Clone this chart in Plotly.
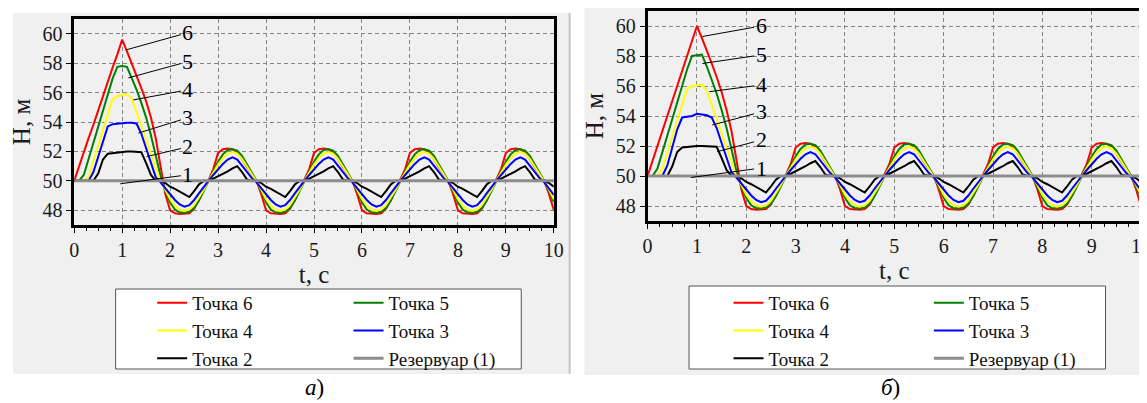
import plotly.graph_objects as go

W, H = 1147, 403
FONT = "Liberation Serif"

# ---------------- data ----------------
# time grids (s)
t_ramp = [round(0.1 * i, 1) for i in range(20)]          # 0.0 ... 1.9
t_tail = [round(2.0 + 0.1 * i, 1) for i in range(81)]    # 2.0 ... 10.0
t_res = [0.0, 10.0]

names = ["Точка 6", "Точка 5", "Точка 4", "Точка 3", "Точка 2", "Резервуар (1)"]
colors = ["#ff0000", "#008000", "#ffff00", "#0000ff", "#000000", "#8c8c8c"]

# panel a) : first pressure wave, t = 0.0 ... 1.9 s
p6_ramp_a = [50.0, 51.0, 51.9, 52.9, 53.8, 54.8, 55.8, 56.7, 57.7, 58.6,
             59.6, 58.8, 58.0, 57.2, 56.3, 55.4, 54.3, 52.9, 51.0, 49.1]
p5_ramp_a = [50.0, 50.0, 50.4, 51.5, 52.6, 53.7, 54.8, 55.9, 56.95, 57.75,
             57.8, 57.75, 57.0, 56.2, 55.3, 54.3, 53.1, 51.8, 50.35, 49.3]
p4_ramp_a = [50.0, 50.0, 50.0, 50.3, 51.35, 52.4, 53.4, 54.5, 55.55, 55.75,
             55.8, 55.9, 55.6, 54.65, 53.7, 52.75, 51.8, 50.85, 49.95, 49.4]
p3_ramp_a = [50.0, 50.0, 50.0, 50.0, 50.6, 51.65, 52.7, 53.7, 53.85, 53.9,
             53.9, 53.95, 53.95, 53.9, 53.2, 52.2, 51.2, 50.25, 49.9, 49.5]
p2_ramp_a = [50.0, 50.0, 50.0, 50.0, 50.0, 50.5, 51.45, 51.85, 51.9, 51.95,
             51.95, 52.0, 52.0, 52.0, 51.95, 51.2, 50.4, 50.0, 50.0, 49.85]

# panel б) : first pressure wave, t = 0.0 ... 1.9 s
p6_ramp_b = [50.0, 51.0, 52.0, 53.0, 54.0, 55.0, 56.0, 57.0, 58.0, 59.0,
             60.0, 59.2, 58.4, 57.5, 56.6, 55.6, 54.4, 53.0, 51.1, 49.1]
p5_ramp_b = [50.0, 50.0, 50.5, 51.6, 52.7, 53.8, 54.9, 56.0, 57.1, 58.0,
             58.05, 58.1, 57.3, 56.4, 55.5, 54.4, 53.2, 51.8, 50.35, 49.3]
p4_ramp_b = [50.0, 50.0, 50.0, 50.5, 51.6, 52.65, 53.7, 54.75, 55.8, 56.0,
             56.05, 56.1, 55.7, 54.75, 53.8, 52.8, 51.85, 50.9, 49.95, 49.4]
p3_ramp_b = [50.0, 50.0, 50.0, 50.0, 50.7, 51.9, 53.1, 53.9, 53.95, 54.0,
             54.15, 54.1, 54.05, 53.9, 53.2, 52.2, 51.2, 50.25, 49.9, 49.5]
p2_ramp_b = [50.0, 50.0, 50.0, 50.0, 50.0, 50.65, 51.6, 51.9, 51.95, 51.95,
             52.0, 52.0, 52.0, 52.0, 51.95, 51.2, 50.4, 50.0, 50.0, 49.85]

# oscillations, t = 2.0 ... 10.0 s (same in both panels)
p6_tail = [48.0, 47.8, 47.75, 47.75, 47.8, 48.1, 48.7, 49.4, 50.05, 50.8,
           51.9, 52.15, 52.2, 52.15, 51.95, 51.5, 50.95, 50.45, 50.0, 49.1,
           48.0, 47.8, 47.75, 47.75, 47.8, 48.1, 48.7, 49.4, 50.05, 50.8,
           51.9, 52.15, 52.2, 52.15, 51.95, 51.5, 50.95, 50.45, 50.0, 49.1,
           48.0, 47.8, 47.75, 47.75, 47.8, 48.1, 48.7, 49.4, 50.05, 50.8,
           51.9, 52.15, 52.2, 52.15, 51.95, 51.5, 50.95, 50.45, 50.0, 49.1,
           48.0, 47.8, 47.75, 47.75, 47.8, 48.1, 48.7, 49.4, 50.05, 50.8,
           51.9, 52.15, 52.2, 52.15, 51.95, 51.5, 50.95, 50.45, 50.0, 49.1,
           48.0]
p5_tail = [48.55, 48.05, 47.85, 47.85, 47.9, 48.15, 48.65, 49.3, 50.0, 50.65,
           51.3, 51.8, 52.1, 52.15, 52.05, 51.7, 51.15, 50.55, 50.0, 49.3,
           48.55, 48.05, 47.85, 47.85, 47.9, 48.15, 48.65, 49.3, 50.0, 50.65,
           51.3, 51.8, 52.1, 52.15, 52.05, 51.7, 51.15, 50.55, 50.0, 49.3,
           48.55, 48.05, 47.85, 47.85, 47.9, 48.15, 48.65, 49.3, 50.0, 50.65,
           51.3, 51.8, 52.1, 52.15, 52.05, 51.7, 51.15, 50.55, 50.0, 49.3,
           48.55, 48.05, 47.85, 47.85, 47.9, 48.15, 48.65, 49.3, 50.0, 50.65,
           51.3, 51.8, 52.1, 52.15, 52.05, 51.7, 51.15, 50.55, 50.0, 49.3,
           48.55]
p4_tail = [48.75, 48.3, 48.05, 47.95, 48.05, 48.35, 48.85, 49.4, 50.0, 50.55,
           51.1, 51.55, 51.85, 51.95, 51.85, 51.5, 51.0, 50.45, 49.95, 49.4,
           48.75, 48.3, 48.05, 47.95, 48.05, 48.35, 48.85, 49.4, 50.0, 50.55,
           51.1, 51.55, 51.85, 51.95, 51.85, 51.5, 51.0, 50.45, 49.95, 49.4,
           48.75, 48.3, 48.05, 47.95, 48.05, 48.35, 48.85, 49.4, 50.0, 50.55,
           51.1, 51.55, 51.85, 51.95, 51.85, 51.5, 51.0, 50.45, 49.95, 49.4,
           48.75, 48.3, 48.05, 47.95, 48.05, 48.35, 48.85, 49.4, 50.0, 50.55,
           51.1, 51.55, 51.85, 51.95, 51.85, 51.5, 51.0, 50.45, 49.95, 49.4,
           48.75]
p3_tail = [49.05, 48.7, 48.4, 48.25, 48.35, 48.7, 49.15, 49.6, 50.0, 50.4,
           50.8, 51.15, 51.45, 51.6, 51.45, 51.05, 50.6, 50.2, 49.9, 49.5,
           49.05, 48.7, 48.4, 48.25, 48.35, 48.7, 49.15, 49.6, 50.0, 50.4,
           50.8, 51.15, 51.45, 51.6, 51.45, 51.05, 50.6, 50.2, 49.9, 49.5,
           49.05, 48.7, 48.4, 48.25, 48.35, 48.7, 49.15, 49.6, 50.0, 50.4,
           50.8, 51.15, 51.45, 51.6, 51.45, 51.05, 50.6, 50.2, 49.9, 49.5,
           49.05, 48.7, 48.4, 48.25, 48.35, 48.7, 49.15, 49.6, 50.0, 50.4,
           50.8, 51.15, 51.45, 51.6, 51.45, 51.05, 50.6, 50.2, 49.9, 49.5,
           49.05]
p2_tail = [49.6, 49.45, 49.25, 49.05, 48.9, 49.3, 49.75, 50.0, 50.0, 50.15,
           50.3, 50.45, 50.65, 50.85, 51.0, 50.6, 50.1, 50.0, 50.0, 49.85,
           49.6, 49.45, 49.25, 49.05, 48.9, 49.3, 49.75, 50.0, 50.0, 50.15,
           50.3, 50.45, 50.65, 50.85, 51.0, 50.6, 50.1, 50.0, 50.0, 49.85,
           49.6, 49.45, 49.25, 49.05, 48.9, 49.3, 49.75, 50.0, 50.0, 50.15,
           50.3, 50.45, 50.65, 50.85, 51.0, 50.6, 50.1, 50.0, 50.0, 49.85,
           49.6, 49.45, 49.25, 49.05, 48.9, 49.3, 49.75, 50.0, 50.0, 50.15,
           50.3, 50.45, 50.65, 50.85, 51.0, 50.6, 50.1, 50.0, 50.0, 49.85,
           49.6]
res_h = [50.0, 50.0]   # reservoir (point 1)

y_ticks = [48, 50, 52, 54, 56, 58, 60]
x_title = "t, с"
y_title = "H, м"
panel_labels = ["1", "2", "3", "4", "5", "6"]
captions = ["<i>а</i>)", "<i>б</i>)"]

# leader-label positions (label text at (tx, ty), line ends on curve at (hx, hy))
lbl_a = {"6": (2.37, 60.07, 1.08, 58.9), "5": (2.37, 58.1, 1.13, 57.0),
         "4": (2.37, 56.19, 1.23, 55.5), "3": (2.37, 54.29, 1.34, 53.25),
         "2": (2.37, 52.31, 1.51, 51.65), "1": (2.37, 50.41, 0.96, 49.8)}
lbl_b = {"6": (2.30, 60.0, 1.11, 59.3), "5": (2.30, 58.07, 1.11, 57.5),
         "4": (2.30, 56.07, 1.25, 55.62), "3": (2.30, 54.27, 1.31, 53.4),
         "2": (2.30, 52.4, 1.41, 51.62), "1": (2.30, 50.53, 0.88, 49.9)}

series_a = [p6_ramp_a + p6_tail, p5_ramp_a + p5_tail, p4_ramp_a + p4_tail,
            p3_ramp_a + p3_tail, p2_ramp_a + p2_tail]
series_b = [p6_ramp_b + p6_tail, p5_ramp_b + p5_tail, p4_ramp_b + p4_tail,
            p3_ramp_b + p3_tail, p2_ramp_b + p2_tail]
t_full = t_ramp + t_tail

# ---------------- figure ----------------
fig = go.Figure()

def add_panel(series, xa, ya, leg_l, leg_r):
    for i, ys in enumerate(series):
        fig.add_trace(go.Scatter(
            x=t_full, y=ys, mode="lines", name=names[i],
            line=dict(color=colors[i], width=2),
            xaxis=xa, yaxis=ya, legend=leg_l if i % 2 == 0 else leg_r))
    fig.add_trace(go.Scatter(
        x=t_res, y=res_h, mode="lines", name=names[5],
        line=dict(color=colors[5], width=3),
        xaxis=xa, yaxis=ya, legend=leg_r))

add_panel(series_a, "x", "y", "legend", "legend2")
add_panel(series_b, "x2", "y2", "legend3", "legend4")

# page is shown with an 8 px body margin: map screen pixels to figure fractions
OFF = 8

def px_x(p):
    return max(0.0, min(1.0, (p - OFF) / W))

def px_y(p):
    return max(0.0, min(1.0, 1 - (p - OFF) / H))

tickfont = dict(family=FONT, size=20, color="#1a1a1a")
titlefont = dict(family=FONT, size=25, color="#1a1a1a")

def xaxis_cfg(dom, rng, anchor):
    return dict(domain=dom, range=rng, anchor=anchor, tick0=0, dtick=1,
                showgrid=True, gridcolor="#858585", gridwidth=1, griddash="4px,3px",
                showline=True, linecolor="black", linewidth=2.5, mirror=True,
                ticks="outside", ticklen=5, tickwidth=1, tickcolor="black",
                minor=dict(dtick=0.25, ticks="outside", ticklen=3, tickcolor="black",
                           showgrid=False),
                zeroline=False, tickfont=tickfont,
                title=dict(text=x_title, font=titlefont, standoff=2))

def yaxis_cfg(dom, anchor):
    return dict(domain=dom, range=[47, 61], anchor=anchor, tickvals=y_ticks,
                showgrid=True, gridcolor="#858585", gridwidth=1, griddash="4px,3px",
                showline=True, linecolor="black", linewidth=2.5, mirror=True,
                ticks="outside", ticklen=5, tickwidth=1, tickcolor="black",
                zeroline=False, tickfont=tickfont,
                title=dict(text=y_title, font=titlefont, standoff=6))

legend_common = dict(bgcolor="rgba(0,0,0,0)", borderwidth=0,
                     font=dict(family=FONT, size=19, color="#111111"),
                     xanchor="left", yanchor="top", orientation="v",
                     tracegroupgap=0, itemclick=False, itemdoubleclick=False)

fig.update_layout(
    width=W, height=H, autosize=False,
    margin=dict(l=0, r=0, t=0, b=0),
    font=dict(family=FONT),
    paper_bgcolor="white", plot_bgcolor="#f0f0f0",
    showlegend=True,
    xaxis=xaxis_cfg([px_x(70), px_x(556)], [0, 10], "y"),
    yaxis=yaxis_cfg([px_y(225), px_y(19)], "x"),
    xaxis2=xaxis_cfg([px_x(651), px_x(1151)], [0, 10], "y2"),
    yaxis2=yaxis_cfg([px_y(221), px_y(11)], "x2"),
    legend=dict(legend_common, x=px_x(149), y=px_y(284)),
    legend2=dict(legend_common, x=px_x(348), y=px_y(284)),
    legend3=dict(legend_common, x=px_x(733), y=px_y(284)),
    legend4=dict(legend_common, x=px_x(936), y=px_y(284)),
)

shapes = [
    dict(type="rect", xref="paper", yref="paper", x0=px_x(7), x1=px_x(572),
         y0=px_y(374), y1=px_y(13), fillcolor="#f0f0f0", line=dict(width=0), layer="below"),
    dict(type="line", xref="paper", yref="paper", x0=px_x(572), x1=px_x(572),
         y0=px_y(374), y1=px_y(13), line=dict(color="#c4c4c4", width=2), layer="below"),
    dict(type="rect", xref="paper", yref="paper", x0=px_x(587), x1=1.0,
         y0=px_y(375), y1=1.0, fillcolor="#f0f0f0", line=dict(width=0), layer="below"),
    dict(type="rect", xref="paper", yref="paper", x0=px_x(112), x1=px_x(523),
         y0=px_y(369), y1=px_y(289), fillcolor="white",
         line=dict(color="#555555", width=1), layer="below"),
    dict(type="rect", xref="paper", yref="paper", x0=px_x(693), x1=px_x(1115),
         y0=px_y(369), y1=px_y(286), fillcolor="white",
         line=dict(color="#555555", width=1), layer="below"),
]
fig.update_layout(shapes=shapes)

annotations = []
for lbls, xr, yr in [(lbl_a, "x", "y"), (lbl_b, "x2", "y2")]:
    for key in panel_labels:
        tx, ty, hx, hy = lbls[key]
        annotations.append(dict(
            text=key, x=hx, y=hy, xref=xr, yref=yr,
            ax=tx, ay=ty, axref=xr, ayref=yr,
            showarrow=True, arrowhead=0, arrowwidth=1, arrowcolor="black",
            font=dict(family=FONT, size=22, color="black"), standoff=0))
for cap, cx in zip(captions, [314, 897]):
    annotations.append(dict(text=cap, x=px_x(cx), y=px_y(402), xref="paper", yref="paper",
                            showarrow=False, xanchor="center", yanchor="bottom",
                            font=dict(family=FONT, size=23, color="black")))
fig.update_layout(annotations=annotations)

fig.write_html("out.html")
